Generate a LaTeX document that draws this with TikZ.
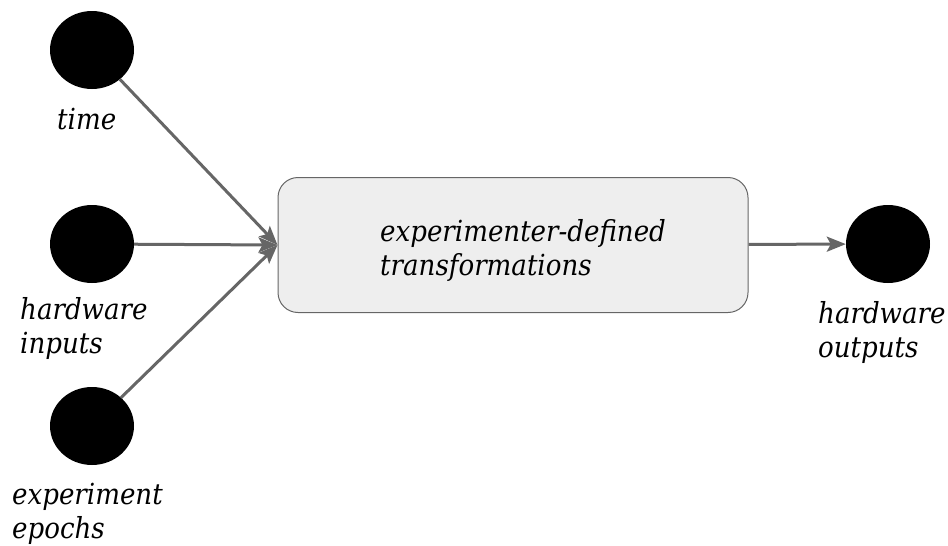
\documentclass[tikz,border=0pt]{standalone}
\usepackage{fontspec}
\newfontfamily\labelfont{DejaVu Serif Condensed}
\usetikzlibrary{positioning, arrows.meta, shapes.geometric}
\definecolor{flowgray}{HTML}{666666}
\definecolor{boxfill}{HTML}{EEEEEE}
\tikzset{>={Stealth[length=19pt, width=15pt, inset=4pt]},
dot/.style={ellipse, fill=black, inner sep=0, minimum width=84, minimum height=78},
lbl/.style={inner sep=0, align=left, font=\labelfont\itshape\fontsize{29}{34}\selectfont},
flow/.style={->, draw=flowgray, line width=3pt},
transform/.style={rounded corners=20pt, draw=flowgray, line width=1pt, fill=boxfill,
  minimum width=470, minimum height=135}
}
\begin{document}
\begin{tikzpicture}[x=1pt,y=-1pt]
\useasboundingbox (0,0) rectangle (948,546);
\node[dot] (time) at (92,50) {};
\node[dot] (hwin) at (92,244) {};
\node[dot] (epochs) at (92,426) {};
\node[dot] (hwout) at (888,244) {};
\node[transform] (xform) at (513,245) {};
\node[lbl, anchor=base west] (xformlab) at (380,275) {experimenter-defined\\transformations};
% labels under the dots
\node[lbl, anchor=base west] (timelab) at (57,129) {time};
\node[lbl, anchor=base west] (hwinlab) at (20,353) {hardware\\inputs};
\node[lbl, anchor=base west] (epochslab) at (12,538) {experiment\\epochs};
\node[lbl, anchor=base west] (hwoutlab) at (818,357) {hardware\\outputs};
\draw[flow] (time) -- (xform.west);
\draw[flow] (hwin) -- (xform.west);
\draw[flow] (epochs) -- (xform.west);
\draw[flow] (xform) -- (hwout);
\end{tikzpicture}
\end{document}
